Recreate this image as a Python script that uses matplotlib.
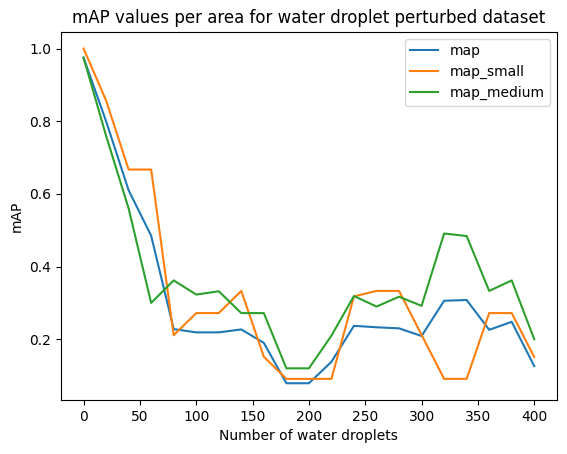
import matplotlib
matplotlib.use("Agg")
from matplotlib import pyplot as plt
import numpy as np

droplets = np.arange(0, 401, 20)
map_all = [0.975, 0.80, 0.61, 0.485, 0.228, 0.219, 0.219, 0.227, 0.19, 0.079, 0.079,
           0.138, 0.237, 0.233, 0.23, 0.209, 0.306, 0.308, 0.226, 0.248, 0.126]
map_small = [1.0, 0.857, 0.667, 0.667, 0.211, 0.272, 0.272, 0.333, 0.152, 0.091, 0.091,
             0.091, 0.318, 0.333, 0.333, 0.212, 0.091, 0.091, 0.272, 0.272, 0.151]
map_medium = [0.975, 0.76, 0.56, 0.30, 0.362, 0.323, 0.332, 0.272, 0.272, 0.12, 0.12,
              0.21, 0.319, 0.29, 0.317, 0.292, 0.491, 0.484, 0.333, 0.362, 0.2]

fig = plt.figure(figsize=(5.67, 4.54), dpi=100)
ax = fig.add_axes([0.1076, 0.119, 0.8744, 0.811])
ax.plot(droplets, map_all, label="map")
ax.plot(droplets, map_small, label="map_small")
ax.plot(droplets, map_medium, label="map_medium")
ax.set_xticks(np.arange(0, 401, 50))
ax.set_yticks([0.2, 0.4, 0.6, 0.8, 1.0])
ax.set_title("mAP values per area for water droplet perturbed dataset")
ax.set_xlabel("Number of water droplets")
ax.set_ylabel("mAP")
ax.legend()
fig.savefig("out.png", dpi=100)
